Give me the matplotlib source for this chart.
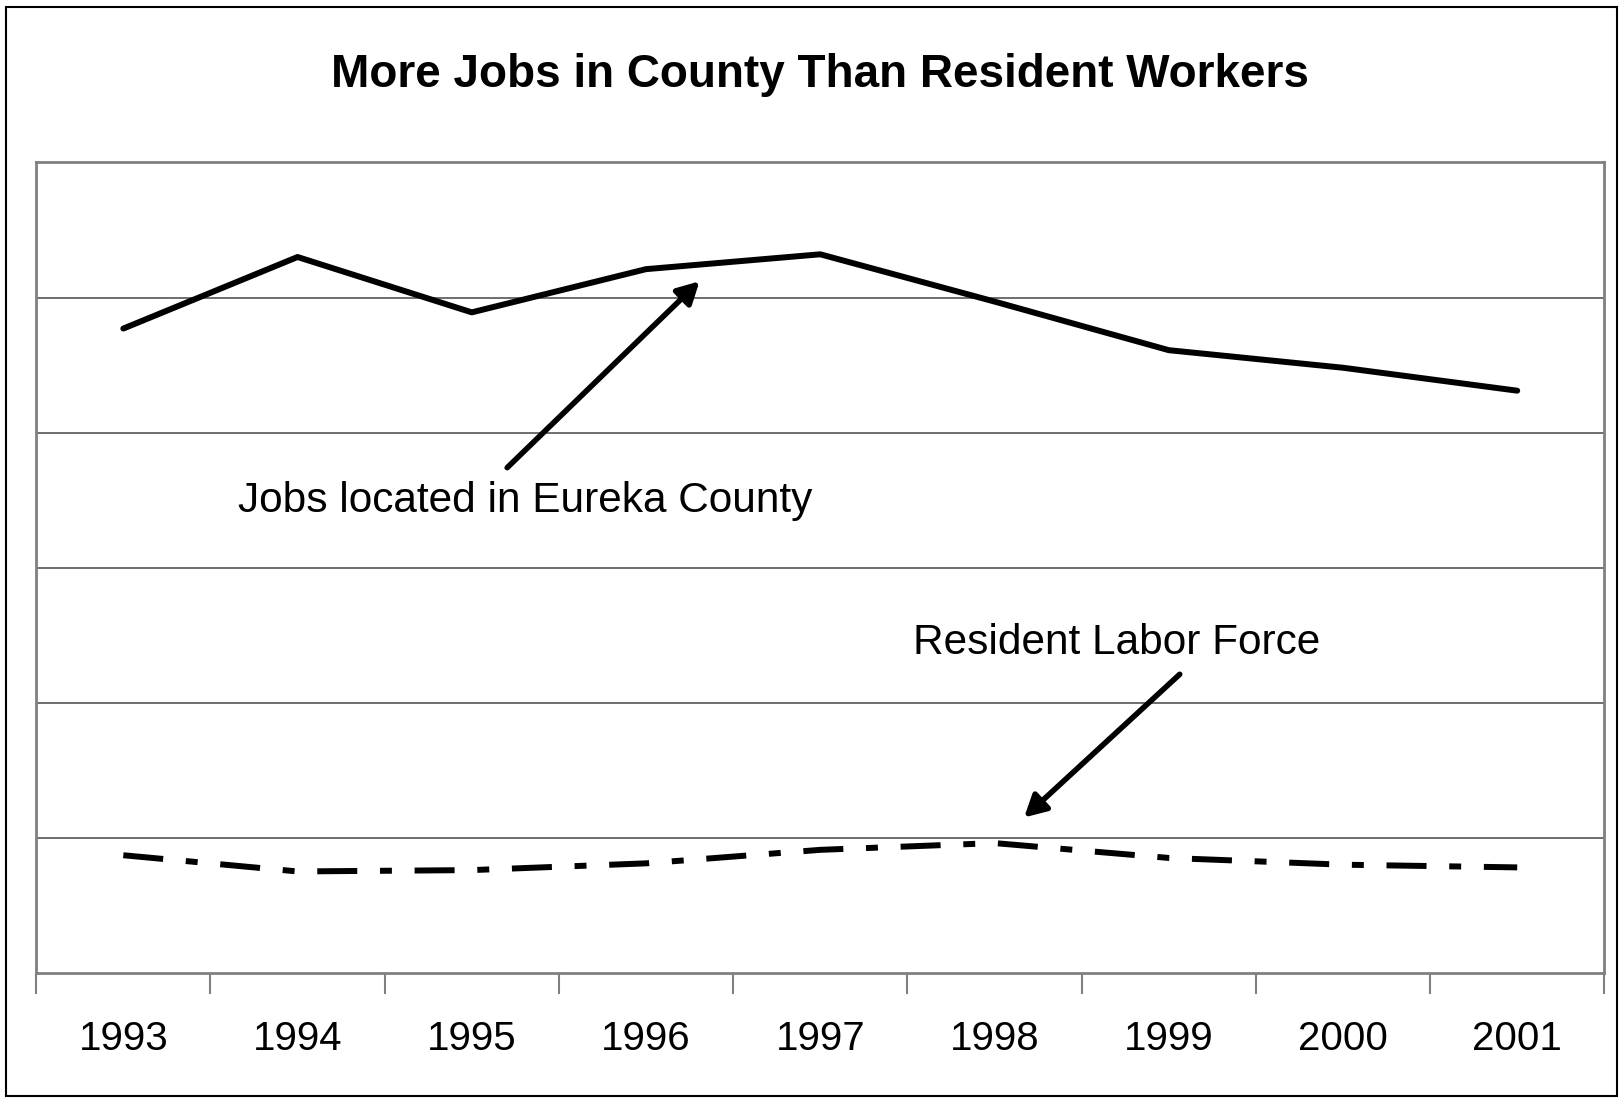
import matplotlib.pyplot as plt
from matplotlib.patches import Rectangle

years = ["1993", "1994", "1995", "1996", "1997", "1998", "1999", "2000", "2001"]
# values (no y-axis labels in the original; gridline = 1 unit)
jobs = [4.77, 5.30, 4.89, 5.21, 5.32, 4.97, 4.61, 4.48, 4.31]
labor = [0.87, 0.75, 0.76, 0.81, 0.91, 0.96, 0.85, 0.80, 0.78]

plt.rcParams["font.family"] = ["Liberation Sans", "DejaVu Sans"]

fig = plt.figure(figsize=(16.23, 11.0), dpi=100)
ax = fig.add_axes([0.0223, 0.1157, 0.9662, 0.7366])

x = list(range(len(years)))

ax.plot(x, jobs, color="black", lw=4.3, solid_capstyle="round", solid_joinstyle="round")
ax.plot(x, labor, color="black", lw=4.3, dash_capstyle="butt",
        dashes=(6.7, 3.8, 2.0, 3.8))

ax.set_xlim(-0.5, len(years) - 0.5)
ax.set_ylim(0, 6)
ax.set_yticks(range(1, 6))
ax.yaxis.grid(True, color="#555555", lw=1.2)
ax.set_axisbelow(True)
ax.tick_params(axis="y", length=0, labelleft=False)

# category ticks sit between the years
ax.set_xticks([i - 0.5 for i in range(len(years) + 1)])
ax.set_xticklabels([])
ax.set_xticks(x, minor=True)
ax.set_xticklabels(years, minor=True, fontsize=29)
ax.tick_params(axis="x", which="major", direction="out", length=15, width=1.5, color="#808080")
ax.tick_params(axis="x", which="minor", length=0, pad=34)

for s in ax.spines.values():
    s.set_color("#808080")
    s.set_linewidth(2)

ax.set_title("More Jobs in County Than Resident Workers", fontsize=33,
             fontweight="bold", pad=54)

arrow = dict(arrowstyle="-|>,head_length=1.3,head_width=0.7", color="black", lw=4,
             shrinkA=0, shrinkB=0)
ax.annotate("", xy=(3.307, 5.12), xytext=(2.203, 3.74), arrowprops=arrow)
ax.annotate("", xy=(5.17, 1.15), xytext=(6.063, 2.21), arrowprops=arrow)
ax.text(0.659, 3.49, "Jobs located in Eureka County", fontsize=30.5, va="center", ha="left")
ax.text(4.53, 2.44, "Resident Labor Force", fontsize=30.5, va="center", ha="left")

fig.patches.append(Rectangle((0.004, 0.004), 0.992, 0.990, transform=fig.transFigure,
                             fill=False, edgecolor="black", lw=1.5))

fig.savefig("out.png", dpi=100)
